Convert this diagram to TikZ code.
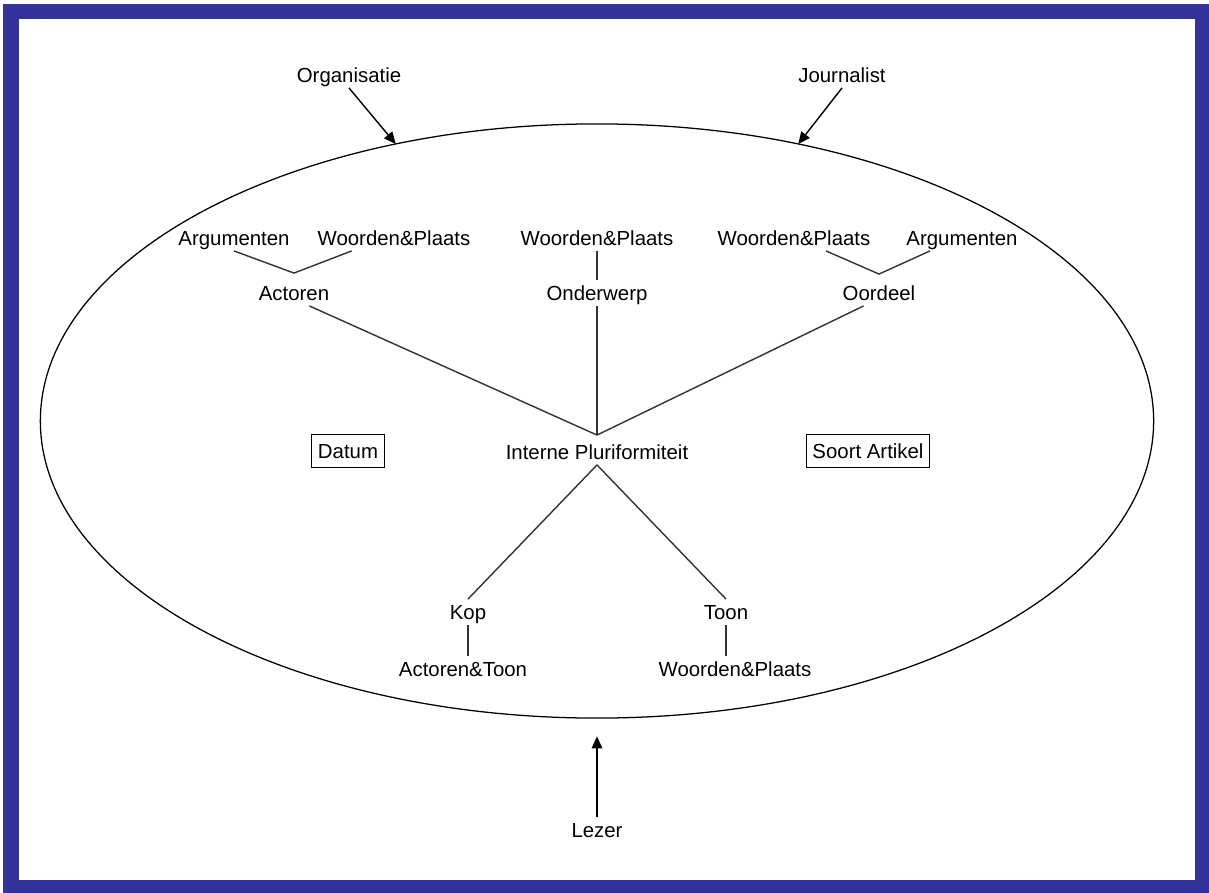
\documentclass[tikz,border=0pt]{standalone}
\usepackage{fontspec}
\setmainfont{Liberation Sans}
\usetikzlibrary{arrows.meta,calc,shapes.geometric}
\definecolor{rand}{RGB}{52,51,153}
\newcommand{\lbl}{\fontsize{14.5}{17}\selectfont}
\tikzset{
  lbl/.style={font=\lbl, text height=12pt, text depth=2pt, inner sep=2pt},
  kader/.style={lbl, draw, line width=0.9pt, inner xsep=4.5pt, inner ysep=4.5pt},
  tak/.style={line width=1pt, black!80},
  pijl/.style={line width=1pt, -{Triangle[length=8.5pt,width=7.5pt]}},
}

\begin{document}
\begin{tikzpicture}[x=0.025cm, y=-0.025cm]
	%%%%% START %%%%%
	\useasboundingbox (0,0) rectangle (1209,893);
	\fill[rand] (3,4) rectangle (1209,893);
	\fill[white] (19,19) rectangle (1195,880);
	
	\node[ellipse, draw, line width=0.9pt, inner sep=0pt, outer sep=0pt,
	      minimum width=27.825cm, minimum height=14.85cm] (frame) at (597,421) {};
	
	\node[lbl] (org) at (349,75) {Organisatie};
	\node[lbl] (jour) at (842,75) {Journalist};
	\node[lbl] (lezer) at (597,830) {Lezer};
	
	\node[lbl] (arg1) at (234,238) {Argumenten};
	\node[lbl] (wp1) at (394,238) {Woorden\&Plaats};
	\node[lbl] (wp2) at (597,238) {Woorden\&Plaats};
	\node[lbl] (wp3) at (794,238) {Woorden\&Plaats};
	\node[lbl] (arg2) at (962,238) {Argumenten};
	
	\node[lbl] (act) at (294,293) {Actoren};
	\node[lbl] (ond) at (597,293) {Onderwerp};
	\node[lbl] (oord) at (879,293) {Oordeel};
	
	\node[lbl] (ip) at (597,452) {Interne Pluriformiteit};
	\node[kader] (datum) at (348,451) {Datum};
	\node[kader] (soort) at (868,451) {Soort Artikel};
	
	\node[lbl] (kop) at (468,612) {Kop};
	\node[lbl] (toon) at (726,612) {Toon};
	\node[lbl] (at) at (463,669) {Actoren\&Toon};
	\node[lbl] (wp4) at (735,669) {Woorden\&Plaats};
	
	\coordinate (ipTop) at ($(ip.north)+(0,-4)$);
	
	% bovenste takken
	\draw[tak] (arg1.south) -- ($(act.north)+(0,-7)$) -- (wp1.197);
	\draw[tak] (wp3.-22) -- ($(oord.north)+(0,-6)$) -- (arg2.202);
	\draw[tak] (wp2.south) -- (ond.north);
	
	\draw[tak] (act.-40) -- (ipTop);
	\draw[tak] (ond.south) -- (ipTop);
	\draw[tak] (oord.-140) -- (ipTop);
	
	% onderste takken
	\draw[tak] (ip.south) -- (kop.north);
	\draw[tak] (ip.south) -- (toon.north);
	\draw[tak] (kop.south) -- (kop.south |- at.north);
	\draw[tak] (toon.south) -- (toon.south |- wp4.north);
	
	% invloeden
	\draw[pijl] (org.south) -- (frame.126);
	\draw[pijl] (jour.south) -- (frame.54);
	\draw[pijl, shorten >=13pt] (lezer.north) -- (frame.south);
	%%%%% END %%%%%
\end{tikzpicture}
\end{document}
